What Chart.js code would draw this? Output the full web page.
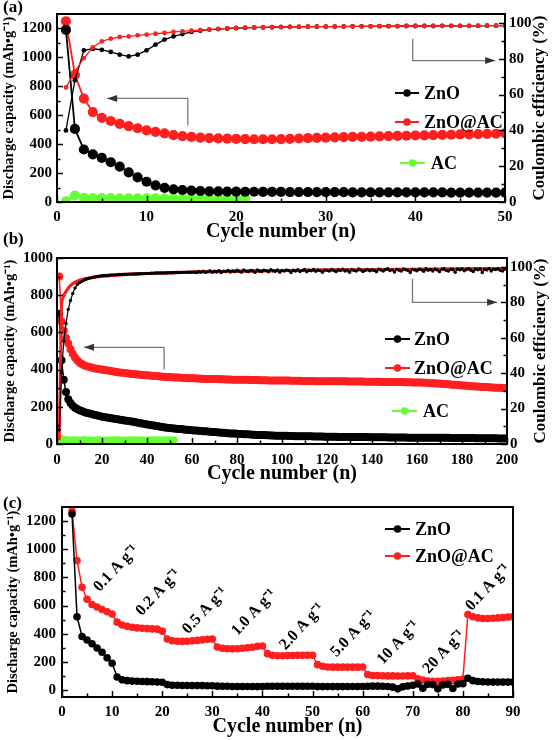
<!DOCTYPE html>
<html><head><meta charset="utf-8">
<script src="https://cdn.jsdelivr.net/npm/chart.js@4.4.0/dist/chart.umd.min.js"></script>
<style>
html,body{margin:0;padding:0;background:#fff;width:553px;height:740px;overflow:hidden;}
canvas{position:absolute;left:0;}
.lab{position:absolute;left:3px;font:bold 17px 'Liberation Serif','Times New Roman',serif;color:#000;line-height:17px;}
</style></head><body>
<canvas id="ca" style="top:0px" width="553" height="245"></canvas>
<canvas id="cb" style="top:245px" width="553" height="240"></canvas>
<canvas id="cc" style="top:485px" width="553" height="255"></canvas>
<div class="lab" style="top:-2px">(a)</div>
<div class="lab" style="top:230px">(b)</div>
<div class="lab" style="top:494px">(c)</div>
<script>
// ---------------- DATA ----------------
// Panel (a)
const cyclesA = [1,2,3,4,5,6,7,8,9,10,11,12,13,14,15,16,17,18,19,20,21,22,23,24,25,26,27,28,29,30,31,32,33,34,35,36,37,38,39,40,41,42,43,44,45,46,47,48,49,50];
const znoCapA = [1190,505,363,330,305,275,245,205,170,140,115,98,88,83,79,76,74,73,72,72,71,71,70,70,70,69,69,69,68,68,68,68,67,67,67,67,67,66,66,66,66,66,66,65,65,65,65,65,65,65];
const znoAcCapA = [1250,880,715,622,582,560,540,525,510,495,485,475,462,455,450,445,442,440,438,436,435,434,434,434,435,437,439,441,443,445,447,448,450,451,452,454,455,457,458,460,461,462,464,465,467,468,469,471,472,474];
const cyclesAcA = [1,2,3,4,5,6,7,8,9,10,11,12,13,14,15,16,17,18,19,20,21];
const acCapA = [5,45,28,27,27,27,26,26,26,26,26,26,26,26,26,26,26,26,25,25,25];
const znoCeA = [40,68,84.7,85.6,85,83.8,82.3,81.3,82.3,84.7,87.9,90.7,92.5,93.8,95,95.7,96.3,96.6,96.9,97.1,97.3,97.4,97.5,97.6,97.7,97.8,97.8,97.9,97.9,98,98,98,98.1,98.1,98.1,98.2,98.2,98.2,98.3,98.3,98.3,98.3,98.4,98.4,98.4,98.4,98.4,98.5,98.5,98.5];
const znoAcCeA = [64,73,80.4,86.4,89.7,91.2,92.2,92.5,93.1,93.5,94,94.4,95,95.3,95.7,96,96.3,96.7,97,97.2,97.4,97.5,97.6,97.7,97.8,97.8,97.9,97.9,98,98,98,98.1,98.1,98.1,98.2,98.2,98.2,98.2,98.3,98.3,98.3,98.3,98.4,98.4,98.4,98.4,98.5,98.5,98.5,98.5];
const xTicksA = [0,10,20,30,40,50];
const yTicksA = [0,200,400,600,800,1000,1200];
const ceTicks = [0,20,40,60,80,100];

// Panel (b)
const cyclesB = [];
for (let i = 1; i <= 200; i++) cyclesB.push(i);
const znoCapB = [
700,450,345,280,240,220,205,195,188,182,177,172,168,165,162,159,156,153,150,147,
145,143,141,139,137,135,133,131,129,127,125,123,121,119,117,114,112,110,107,105,
103,101,99,97,95,93,91,89,88,86,85,84,82,81,80,79,77,76,75,74,
73,72,71,70,69,68,67,66,65,64,63,62,61,60,59,58,57,57,56,55,
54,54,53,52,52,51,50,50,49,49,48,48,47,47,46,46,45,45,45,44,
44,44,43,43,43,42,42,42,42,41,41,41,41,40,40,40,40,40,39,39,
39,39,39,39,38,38,38,38,38,38,38,37,37,37,37,37,37,37,36,36,
36,36,36,36,36,36,35,35,35,35,35,35,35,35,35,34,34,34,34,34,
34,34,34,34,33,33,33,33,33,33,33,33,33,33,32,32,32,32,32,32,
32,32,32,32,32,31,31,31,31,31,31,31,31,31,31,30,30,30,30,30];
const znoAcCapB = [
900,660,610,570,540,510,485,465,450,438,430,424,419,415,412,409,406,404,402,400,
398,396,394,392,390,388,386,385,383,382,380,379,377,376,375,373,372,371,370,369,
368,367,366,365,364,363,362,361,360,360,359,358,357,357,356,355,355,354,354,353,
353,352,352,351,351,350,350,350,349,349,349,348,348,348,347,347,347,346,346,346,
346,345,345,345,345,344,344,344,344,343,343,343,343,342,342,342,342,342,341,341,
341,341,341,340,340,340,340,340,339,339,339,339,339,339,338,338,338,338,338,338,
338,337,337,337,337,337,337,337,336,336,336,336,336,336,336,336,335,335,335,335,
335,335,335,334,334,334,334,334,334,333,333,333,333,333,332,332,332,331,331,331,
330,330,329,329,328,327,327,326,325,325,324,323,322,321,320,319,318,317,316,315,
314,313,312,311,310,309,309,308,307,306,306,305,304,304,303,302,302,301,301,300];
const znoCeB = [
8,40,58,68,76,81,85,88,90,91,91.8,92.5,93,93.5,93.8,94.1,94.4,94.6,94.8,95,
95.1,95.2,95.3,95.4,95.5,95.5,95.6,95.7,95.7,95.8,95.8,95.9,95.9,96,96,96.1,96.1,96.2,96.2,96.3,
96.3,96.4,96.4,96.5,96.5,96.5,96.6,96.6,96.7,96.7,96.7,96.8,96.8,96.8,96.9,96.9,96.9,97,97,97,
97.1,96.8,97.4,97.0,97.6,96.9,97.3,97.8,97.0,97.5,97.2,97.9,96.8,97.6,97.4,98.0,97.1,97.7,97.3,98.1,
97.5,97.0,98.2,97.6,97.3,98.0,97.8,96.9,98.3,97.7,97.4,98.1,97.9,97.2,98.4,97.8,97.5,98.2,97.0,98.0,
97.6,98.3,97.9,96.8,98.1,97.7,98.4,97.4,98.0,98.5,97.2,98.1,97.8,98.6,97.5,98.2,97.9,96.9,98.3,98.0,
97.6,98.5,98.1,97.3,98.4,97.9,98.7,97.7,98.2,96.9,98.5,98.0,97.6,98.8,98.3,97.4,98.1,98.6,97.8,98.4,
98.0,97.2,98.7,98.2,97.7,98.5,98.9,97.9,98.3,97.1,98.6,98.1,97.6,98.8,98.4,98.0,96.8,98.6,98.2,97.8,
98.7,98.3,97.5,98.9,98.1,98.5,97.7,98.8,98.2,97.3,98.6,98.9,98.0,97.6,98.7,98.4,96.9,98.8,98.3,98.9,
97.8,98.5,99.0,98.1,97.4,98.8,98.4,98.9,96.8,98.6,98.2,99.1,97.7,98.7,98.5,98.9,98.0,97.6,98.8,99.0];
const znoAcCeB = [
3,80,84,86,88,89.5,90.5,91.3,91.9,92.4,92.8,93.1,93.4,93.6,93.8,94.0,94.2,94.4,94.5,94.7,
94.8,94.9,95.0,95.1,95.2,95.3,95.4,95.5,95.6,95.7,95.7,95.8,95.9,95.9,96.0,96.0,96.1,96.1,96.2,96.2,
96.3,96.3,96.4,96.4,96.5,96.5,96.6,96.6,96.6,96.7,96.7,96.7,96.8,96.8,96.8,96.9,96.9,96.9,97.0,97.0,
97.0,97.1,97.1,97.1,97.2,97.2,97.2,97.2,97.3,97.3,97.3,97.3,97.4,97.4,97.4,97.4,97.5,97.5,97.5,97.5,
97.5,97.6,97.6,97.6,97.6,97.6,97.7,97.7,97.7,97.7,97.7,97.8,97.8,97.8,97.8,97.8,97.8,97.9,97.9,97.9,
97.9,97.9,97.9,98.0,98.0,98.0,98.0,98.0,98.0,98.0,98.1,98.1,98.1,98.1,98.1,98.1,98.1,98.2,98.2,98.2,
98.2,98.2,98.2,98.2,98.2,98.3,98.3,98.3,98.3,98.3,98.3,98.3,98.3,98.4,98.4,98.4,98.4,98.4,98.4,98.4,
98.4,98.5,98.5,98.5,98.5,98.5,98.5,98.5,98.5,98.5,98.6,98.6,98.6,98.6,98.6,98.6,98.6,98.6,98.6,98.6,
98.7,98.7,98.7,98.7,98.7,98.7,98.7,98.7,98.7,98.7,98.8,98.8,98.8,98.8,98.8,98.8,98.8,98.8,98.8,98.8,
98.8,98.9,98.9,98.9,98.9,98.9,98.9,98.9,98.9,98.9,98.9,99.0,99.0,99.0,99.0,99.0,99.0,99.0,99.0,99.0];
const cyclesAcB = [];
for (let i = 1; i <= 52; i++) cyclesAcB.push(i);
const acCapB = [5,28,22,21,20,20,21,20,20,19,20,21,20,20,20,19,20,20,21,20,20,20,19,20,20,21,20,20,20,20,19,20,20,21,20,20,20,20,19,20,20,21,20,20,20,19,20,20,21,20,20,20];
const xTicksB = [0,20,40,60,80,100,120,140,160,180,200];
const yTicksB = [0,200,400,600,800,1000];

// Panel (c)
const cyclesC = [2,3,4,5,6,7,8,9,10,11,12,13,14,15,16,17,18,19,20,21,22,23,24,25,26,27,28,29,30,31,32,33,34,35,36,37,38,39,40,41,42,43,44,45,46,47,48,49,50,51,52,53,54,55,56,57,58,59,60,61,62,63,64,65,66,67,68,69,70,71,72,73,74,75,76,77,78,79,80,81,82,83,84,85,86,87,88,89,90];
const znoAcRateC = [1272,920,730,645,607,590,572,556,540,
482,462,452,446,441,438,436,434,432,418,
362,350,346,345,346,349,352,356,360,362,
305,296,293,292,293,296,300,304,310,312,
258,246,243,243,244,245,246,246,246,247,
180,168,163,162,162,162,162,162,162,163,
110,103,102,101,100,100,99,99,100,101,
80,70,64,62,62,64,66,68,72,78,
536,520,512,508,508,510,512,515,518,522];
const znoRateC = [1250,520,380,355,328,298,268,228,190,
92,72,66,63,62,60,59,58,57,55,
38,34,33,32,32,31,31,31,30,30,
27,26,26,25,25,25,25,25,24,24,
26,26,26,26,26,26,26,26,26,26,
24,24,24,24,24,24,25,25,25,25,
26,27,27,26,25,20,8,22,28,33,
42,12,40,38,8,36,40,10,42,45,
83,66,60,58,57,56,56,56,56,56];
const rateTexts = ['0.1 A g\u207B\u00B9','0.2 A g\u207B\u00B9','0.5 A g\u207B\u00B9','1.0 A g\u207B\u00B9','2.0 A g\u207B\u00B9','5.0 A g\u207B\u00B9','10 A g\u207B\u00B9','20 A g\u207B\u00B9','0.1 A g\u207B\u00B9'];
const xTicksC = [0,10,20,30,40,50,60,70,80,90];
const yTicksC = [0,200,400,600,800,1000,1200];

// ---------------- STYLE / HELPERS ----------------
const FONT = "'Liberation Serif','Times New Roman',serif";
const RED = '#ff1f1f', BLACK = '#000000', GREEN = '#66ff33';
const CAP_TITLE = 'Discharge capacity (mAh\u2022g\u207B\u00B9)';

function pts(xs, ys) { return ys.map((y, i) => ({x: xs[i], y: y})); }
function ds(label, xs, ys, color, axis, r, bw) {
  return {label, data: pts(xs, ys), borderColor: color, backgroundColor: color,
    pointBackgroundColor: color, pointBorderColor: color, pointBorderWidth: 0,
    pointRadius: r, borderWidth: bw, yAxisID: axis, tension: 0, fill: false};
}
const tickFont = {family: FONT, size: 15, weight: 'bold'};
function xScale(min, max, ticks, height, lpad, tpad) {
  return {type: 'linear', min, max, bounds: 'data',
    afterBuildTicks: s => { s.ticks = ticks.map(v => ({value: v})); },
    afterFit: s => { s.height = height; },
    grid: {display: false, drawTicks: false}, border: {display: false},
    ticks: {color: '#000', font: tickFont, padding: lpad, maxRotation: 0, autoSkip: false, callback: v => String(v)},
    title: {display: true, text: 'Cycle number (n)', color: '#000',
      font: {family: FONT, size: 20, weight: 'bold', lineHeight: 1}, padding: {top: 0, bottom: tpad}}};
}
function yScale(pos, min, max, ticks, width, lpad, title, tpad) {
  const o = {type: 'linear', position: pos, min, max, bounds: 'data',
    afterBuildTicks: s => { s.ticks = ticks.map(v => ({value: v})); },
    afterFit: s => { s.width = width; },
    grid: {display: false, drawTicks: false}, border: {display: false},
    ticks: {color: '#000', font: tickFont, padding: lpad, autoSkip: false, callback: v => String(v)},
    title: {display: false}};
  if (title) o.title = {display: true, text: title, color: '#000',
    font: {family: FONT, size: 14.5, weight: 'bold', lineHeight: 1}, padding: {top: tpad, bottom: 0}};
  return o;
}

const decoPlugin = {
  id: 'deco',
  afterDatasetsDraw(chart, args, o) {
    const ctx = chart.ctx, ca = chart.chartArea;
    ctx.save();
    ctx.strokeStyle = '#000'; ctx.lineWidth = 1.5;
    Object.keys(chart.scales).forEach(id => {
      const s = chart.scales[id];
      const maj = s.ticks.map(t => t.value);
      const min = [];
      for (let i = 0; i < maj.length - 1; i++) min.push((maj[i] + maj[i + 1]) / 2);
      const draw = (v, len) => {
        const p = Math.round(s.getPixelForValue(v)) + 0.5;
        ctx.beginPath();
        if (s.isHorizontal()) { ctx.moveTo(p, ca.bottom); ctx.lineTo(p, ca.bottom - len); }
        else if (s.position === 'left') { ctx.moveTo(ca.left, p); ctx.lineTo(ca.left + len, p); }
        else { ctx.moveTo(ca.right, p); ctx.lineTo(ca.right - len, p); }
        ctx.stroke();
      };
      maj.forEach(v => draw(v, 6)); min.forEach(v => draw(v, 3.5));
    });
    ctx.lineWidth = 2;
    ctx.strokeRect(ca.left, ca.top, ca.right - ca.left, ca.bottom - ca.top);
    // arrows
    (o.arrows || []).forEach(a => {
      const ys = chart.scales[a.axis], xs = chart.scales.x;
      const P = a.pts.map(p => [xs.getPixelForValue(p[0]), ys.getPixelForValue(p[1])]);
      ctx.strokeStyle = '#7a7a7a'; ctx.lineWidth = 1.3;
      ctx.beginPath(); ctx.moveTo(P[0][0], P[0][1]);
      for (let i = 1; i < P.length; i++) ctx.lineTo(P[i][0], P[i][1]);
      ctx.stroke();
      const e = P[P.length - 1], b = P[P.length - 2];
      const ang = Math.atan2(e[1] - b[1], e[0] - b[0]);
      ctx.fillStyle = '#333';
      ctx.beginPath();
      ctx.moveTo(e[0], e[1]);
      ctx.lineTo(e[0] - 10 * Math.cos(ang) + 3.5 * Math.sin(ang), e[1] - 10 * Math.sin(ang) - 3.5 * Math.cos(ang));
      ctx.lineTo(e[0] - 10 * Math.cos(ang) - 3.5 * Math.sin(ang), e[1] - 10 * Math.sin(ang) + 3.5 * Math.cos(ang));
      ctx.closePath(); ctx.fill();
    });
    // legend
    (o.legend || []).forEach(l => {
      const d = chart.data.datasets[l.ds];
      ctx.strokeStyle = d.borderColor; ctx.fillStyle = d.borderColor; ctx.lineWidth = 2;
      ctx.beginPath(); ctx.moveTo(l.x0, l.y); ctx.lineTo(l.x1, l.y); ctx.stroke();
      ctx.beginPath(); ctx.arc((l.x0 + l.x1) / 2, l.y, 3.8, 0, Math.PI * 2); ctx.fill();
      ctx.fillStyle = '#000'; ctx.font = 'bold 18px ' + FONT;
      ctx.textAlign = 'left'; ctx.textBaseline = 'middle';
      ctx.fillText(d.label, l.tx, l.y + 1);
    });
    // right title
    if (o.rightTitle) {
      ctx.save();
      ctx.translate(o.rightTitle.x, (ca.top + ca.bottom) / 2);
      ctx.rotate(-Math.PI / 2);
      ctx.fillStyle = '#000'; ctx.font = 'bold 17px ' + FONT;
      ctx.textAlign = 'center'; ctx.textBaseline = 'middle';
      ctx.fillText(o.rightTitle.text, 0, 0);
      ctx.restore();
    }
    // rate labels
    (o.rates || []).forEach(r => {
      ctx.save();
      ctx.translate(chart.scales.x.getPixelForValue(r.x), chart.scales.y.getPixelForValue(r.y));
      ctx.rotate(-47 * Math.PI / 180);
      ctx.fillStyle = '#000'; ctx.font = 'bold 16px ' + FONT;
      ctx.textAlign = 'center'; ctx.textBaseline = 'middle';
      ctx.fillText(r.text, 0, 0);
      ctx.restore();
    });
    ctx.restore();
  }
};
Chart.register(decoPlugin);

const common = {responsive: false, animation: false, devicePixelRatio: 1, events: [],
  plugins: {legend: {display: false}, tooltip: {enabled: false}}};

// ---------------- (a) ----------------
new Chart(document.getElementById('ca'), {
  type: 'line',
  data: {datasets: [
    ds('ZnO@AC CE', cyclesA, znoAcCeA, RED, 'y1', 2.4, 1.3),
    ds('ZnO CE', cyclesA, znoCeA, BLACK, 'y1', 2.4, 1.3),
    ds('ZnO', cyclesA, znoCapA, BLACK, 'y', 5.1, 1.8),
    ds('ZnO@AC', cyclesA, znoAcCapA, RED, 'y', 5.1, 1.8),
    ds('AC', cyclesAcA, acCapA, GREEN, 'y', 5.1, 1.8)
  ]},
  options: Object.assign({}, common, {
    layout: {padding: {top: 14, left: 0, right: 0, bottom: 0}},
    scales: {
      x: xScale(0, 50, xTicksA, 43, 6, 3),
      y: yScale('left', 0, 1300, yTicksA, 57, 5, CAP_TITLE, 2),
      y1: yScale('right', 0, 105, ceTicks, 48, 4, null, 0)
    },
    plugins: Object.assign({}, common.plugins, {deco: {
      arrows: [{axis: 'y', pts: [[14.6, 529], [14.6, 716], [5.6, 716]]},
               {axis: 'y1', pts: [[39.7, 91.2], [39.7, 79], [48.9, 79]]}],
      legend: [{ds: 2, y: 93, x0: 395, x1: 419, tx: 424},
               {ds: 3, y: 122, x0: 395, x1: 419, tx: 424},
               {ds: 4, y: 163, x0: 400, x1: 425, tx: 431}],
      rightTitle: {text: 'Coulombic efficiency (%)', x: 540}
    }})
  })
});

// ---------------- (b) ----------------
new Chart(document.getElementById('cb'), {
  type: 'line',
  data: {datasets: [
    ds('ZnO CE', cyclesB, znoCeB, BLACK, 'y1', 1.7, 1.2),
    ds('ZnO@AC CE', cyclesB, znoAcCeB, RED, 'y1', 1.7, 3),
    ds('ZnO', cyclesB, znoCapB, BLACK, 'y', 4, 1.5),
    ds('ZnO@AC', cyclesB, znoAcCapB, RED, 'y', 4, 1.5),
    ds('AC', cyclesAcB, acCapB, GREEN, 'y', 3.8, 3)
  ]},
  options: Object.assign({}, common, {
    layout: {padding: {top: 11, left: 0, right: 0, bottom: 0}},
    scales: {
      x: xScale(0, 200, xTicksB, 41, 7, 1),
      y: yScale('left', 0, 1000, yTicksB, 57, 4, CAP_TITLE, 3),
      y1: yScale('right', 0, 105, ceTicks, 46, 3, null, 0)
    },
    plugins: Object.assign({}, common.plugins, {deco: {
      arrows: [{axis: 'y', pts: [[47.6, 400], [47.6, 520], [12, 520]]},
               {axis: 'y1', pts: [[158, 93.3], [158, 80], [195.6, 80]]}],
      legend: [{ds: 2, y: 94, x0: 385, x1: 410, tx: 414},
               {ds: 3, y: 123, x0: 385, x1: 410, tx: 414},
               {ds: 4, y: 166, x0: 392, x1: 417, tx: 423}],
      rightTitle: {text: 'Coulombic efficiency (%)', x: 541}
    }})
  })
});

// ---------------- (c) ----------------
new Chart(document.getElementById('cc'), {
  type: 'line',
  data: {datasets: [
    ds('ZnO', cyclesC, znoRateC, BLACK, 'y', 3.8, 1.5),
    ds('ZnO@AC', cyclesC, znoAcRateC, RED, 'y', 3.8, 1.5)
  ]},
  options: Object.assign({}, common, {
    layout: {padding: {top: 22, left: 0, right: 40, bottom: 0}},
    scales: {
      x: xScale(0, 90, xTicksC, 43, 6, 3),
      y: yScale('left', -50, 1300, yTicksC, 62, 6, CAP_TITLE, 6)
    },
    plugins: Object.assign({}, common.plugins, {deco: {
      legend: [{ds: 0, y: 44, x0: 385, x1: 410, tx: 415},
               {ds: 1, y: 71, x0: 385, x1: 410, tx: 415}],
      rates: [
        {text: rateTexts[0], x: 10.8, y: 864}, {text: rateTexts[1], x: 19.2, y: 693},
        {text: rateTexts[2], x: 28.5, y: 564}, {text: rateTexts[3], x: 38.3, y: 550},
        {text: rateTexts[4], x: 47.9, y: 450}, {text: rateTexts[5], x: 58.1, y: 400},
        {text: rateTexts[6], x: 67.1, y: 336}, {text: rateTexts[7], x: 76.2, y: 271},
        {text: rateTexts[8], x: 85.0, y: 729}]
    }})
  })
});
</script>
</body></html>
